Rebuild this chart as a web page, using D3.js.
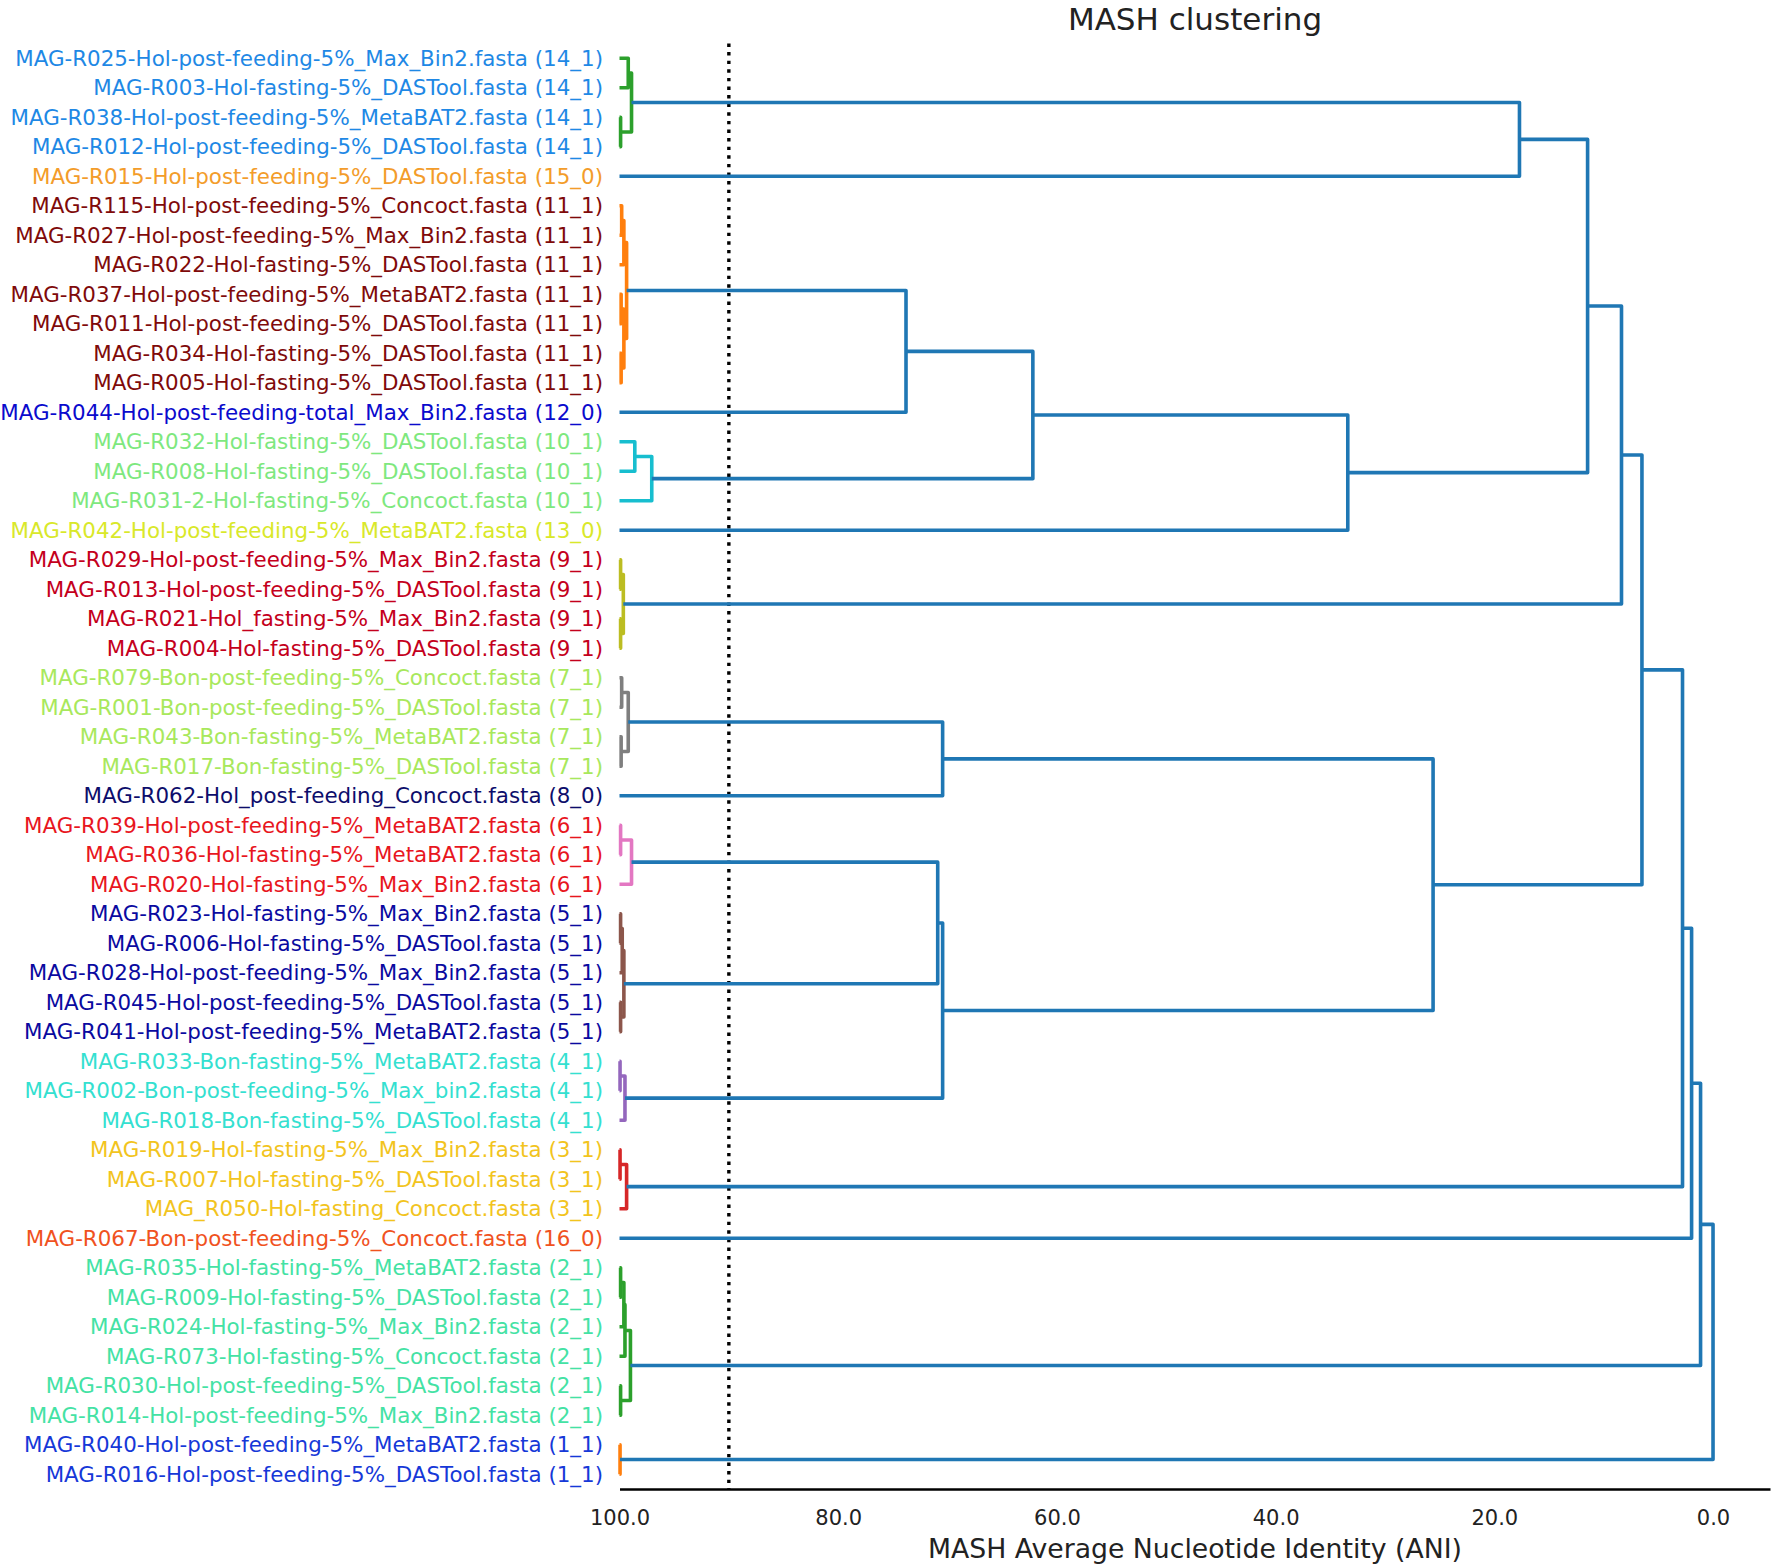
<!DOCTYPE html>
<html><head><meta charset="utf-8">
<script src="https://cdn.jsdelivr.net/npm/d3@7"></script>
<style>body{margin:0;background:#fff} text{font-family:"DejaVu Sans",sans-serif}</style>
</head><body><svg id="c" width="1772" height="1567"></svg>
<script>
// ---------------- data ----------------
const leafLabels = [
"MAG-R025-Hol-post-feeding-5%_Max_Bin2.fasta (14_1)",
"MAG-R003-Hol-fasting-5%_DASTool.fasta (14_1)",
"MAG-R038-Hol-post-feeding-5%_MetaBAT2.fasta (14_1)",
"MAG-R012-Hol-post-feeding-5%_DASTool.fasta (14_1)",
"MAG-R015-Hol-post-feeding-5%_DASTool.fasta (15_0)",
"MAG-R115-Hol-post-feeding-5%_Concoct.fasta (11_1)",
"MAG-R027-Hol-post-feeding-5%_Max_Bin2.fasta (11_1)",
"MAG-R022-Hol-fasting-5%_DASTool.fasta (11_1)",
"MAG-R037-Hol-post-feeding-5%_MetaBAT2.fasta (11_1)",
"MAG-R011-Hol-post-feeding-5%_DASTool.fasta (11_1)",
"MAG-R034-Hol-fasting-5%_DASTool.fasta (11_1)",
"MAG-R005-Hol-fasting-5%_DASTool.fasta (11_1)",
"MAG-R044-Hol-post-feeding-total_Max_Bin2.fasta (12_0)",
"MAG-R032-Hol-fasting-5%_DASTool.fasta (10_1)",
"MAG-R008-Hol-fasting-5%_DASTool.fasta (10_1)",
"MAG-R031-2-Hol-fasting-5%_Concoct.fasta (10_1)",
"MAG-R042-Hol-post-feeding-5%_MetaBAT2.fasta (13_0)",
"MAG-R029-Hol-post-feeding-5%_Max_Bin2.fasta (9_1)",
"MAG-R013-Hol-post-feeding-5%_DASTool.fasta (9_1)",
"MAG-R021-Hol_fasting-5%_Max_Bin2.fasta (9_1)",
"MAG-R004-Hol-fasting-5%_DASTool.fasta (9_1)",
"MAG-R079-Bon-post-feeding-5%_Concoct.fasta (7_1)",
"MAG-R001-Bon-post-feeding-5%_DASTool.fasta (7_1)",
"MAG-R043-Bon-fasting-5%_MetaBAT2.fasta (7_1)",
"MAG-R017-Bon-fasting-5%_DASTool.fasta (7_1)",
"MAG-R062-Hol_post-feeding_Concoct.fasta (8_0)",
"MAG-R039-Hol-post-feeding-5%_MetaBAT2.fasta (6_1)",
"MAG-R036-Hol-fasting-5%_MetaBAT2.fasta (6_1)",
"MAG-R020-Hol-fasting-5%_Max_Bin2.fasta (6_1)",
"MAG-R023-Hol-fasting-5%_Max_Bin2.fasta (5_1)",
"MAG-R006-Hol-fasting-5%_DASTool.fasta (5_1)",
"MAG-R028-Hol-post-feeding-5%_Max_Bin2.fasta (5_1)",
"MAG-R045-Hol-post-feeding-5%_DASTool.fasta (5_1)",
"MAG-R041-Hol-post-feeding-5%_MetaBAT2.fasta (5_1)",
"MAG-R033-Bon-fasting-5%_MetaBAT2.fasta (4_1)",
"MAG-R002-Bon-post-feeding-5%_Max_bin2.fasta (4_1)",
"MAG-R018-Bon-fasting-5%_DASTool.fasta (4_1)",
"MAG-R019-Hol-fasting-5%_Max_Bin2.fasta (3_1)",
"MAG-R007-Hol-fasting-5%_DASTool.fasta (3_1)",
"MAG_R050-Hol-fasting_Concoct.fasta (3_1)",
"MAG-R067-Bon-post-feeding-5%_Concoct.fasta (16_0)",
"MAG-R035-Hol-fasting-5%_MetaBAT2.fasta (2_1)",
"MAG-R009-Hol-fasting-5%_DASTool.fasta (2_1)",
"MAG-R024-Hol-fasting-5%_Max_Bin2.fasta (2_1)",
"MAG-R073-Hol-fasting-5%_Concoct.fasta (2_1)",
"MAG-R030-Hol-post-feeding-5%_DASTool.fasta (2_1)",
"MAG-R014-Hol-post-feeding-5%_Max_Bin2.fasta (2_1)",
"MAG-R040-Hol-post-feeding-5%_MetaBAT2.fasta (1_1)",
"MAG-R016-Hol-post-feeding-5%_DASTool.fasta (1_1)"
];
const leafClusters = ["14_1","14_1","14_1","14_1","15_0","11_1","11_1","11_1","11_1","11_1","11_1","11_1","12_0",
"10_1","10_1","10_1","13_0","9_1","9_1","9_1","9_1","7_1","7_1","7_1","7_1","8_0","6_1","6_1","6_1",
"5_1","5_1","5_1","5_1","5_1","4_1","4_1","4_1","3_1","3_1","3_1","16_0","2_1","2_1","2_1","2_1","2_1","2_1","1_1","1_1"];
const clusterNames  = ["14_1","15_0","11_1","12_0","10_1","13_0","9_1","7_1","8_0","6_1","5_1","4_1","3_1","16_0","2_1","1_1"];
const clusterLabelColors = ["#1e88e5","#f39c2a","#7f0a0a","#0a0acd","#7ee87e","#d9e82a","#c4001c","#a8e85c","#0d0d6b","#e8161e","#0a0aa0","#34e0d0","#f2c41e","#f0521e","#44e2a4","#1638d8"];
// linkage: [childA, childB, ANI at merge, link colour group]; leaves 0..48, merges numbered from 49
const merges = [
[0,1,99.2,"C2"],[2,3,99.9,"C2"],[49,50,98.9,"C2"],[51,4,17.7,"C0"],
[5,6,99.8,"C1"],[53,7,99.6,"C1"],[8,9,99.85,"C1"],[10,11,99.85,"C1"],[55,56,99.6,"C1"],[54,57,99.35,"C1"],[58,12,73.8,"C0"],
[13,14,98.6,"C9"],[60,15,97.05,"C9"],[59,61,62.2,"C0"],[62,16,33.4,"C0"],[52,63,11.47,"C0"],
[17,18,99.9,"C8"],[19,20,99.9,"C8"],[65,66,99.65,"C8"],[64,67,8.37,"C0"],
[21,22,99.8,"C7"],[23,24,99.85,"C7"],[69,70,99.2,"C7"],[71,25,70.45,"C0"],
[26,27,99.9,"C6"],[73,28,98.9,"C6"],
[29,30,99.9,"C5"],[75,31,99.75,"C5"],[32,33,99.9,"C5"],[76,77,99.6,"C5"],[74,78,70.9,"C0"],
[34,35,99.95,"C4"],[80,36,99.5,"C4"],[79,81,70.45,"C0"],[72,82,25.6,"C0"],[68,83,6.5,"C0"],
[37,38,99.95,"C3"],[85,39,99.35,"C3"],[84,86,2.79,"C0"],[87,40,1.96,"C0"],
[41,42,99.9,"C2"],[89,43,99.6,"C2"],[90,44,99.5,"C2"],[45,46,99.9,"C2"],[91,92,99.0,"C2"],[88,93,1.14,"C0"],
[47,48,99.95,"C1"],[94,95,0.0,"C0"]
];
const linkGroups = ["C0","C1","C2","C3","C4","C5","C6","C7","C8","C9"];
const linkColors = ["#1f77b4","#ff7f0e","#2ca02c","#d62728","#9467bd","#8c564b","#e377c2","#7f7f7f","#bcbd22","#17becf"];
const xTicks = [100, 80, 60, 40, 20, 0];
const threshold = 90;
const leafANI = 100;
const title = "MASH clustering";
const xLabel = "MASH Average Nucleotide Identity (ANI)";

// ---------------- drawing ----------------
const svg = d3.select("#c");
const nLeaves = leafLabels.length;
const x = d3.scaleLinear().domain([100, -5.21]).range([619.5, 1770]);
const y = d3.scaleLinear().domain([0, nLeaves * 10]).range([1489, 43.5]);
const labelColor = d3.scaleOrdinal().domain(clusterNames).range(clusterLabelColors);
const linkColor = d3.scaleOrdinal().domain(linkGroups).range(linkColors);

// node positions (scipy style: leaves at 5,15,...; merge at mean of children)
const nodes = leafLabels.map((l, i) => ({h: leafANI, pos: (nLeaves - i) * 10 - 5}));
merges.forEach(m => nodes.push({h: m[2], pos: (nodes[m[0]].pos + nodes[m[1]].pos) / 2}));

// threshold dotted line
svg.append("line")
  .attr("x1", x(threshold)).attr("x2", x(threshold))
  .attr("y1", y(nLeaves * 10)).attr("y2", y(0))
  .attr("stroke", "#000").attr("stroke-width", 3.4).attr("stroke-dasharray", "3.4,5.2");

// links
svg.append("g").selectAll("path").data(merges).join("path")
  .attr("d", m => {
    const a = nodes[m[0]], b = nodes[m[1]];
    return `M${x(a.h)},${y(a.pos)}H${x(m[2])}V${y(b.pos)}H${x(b.h)}`;
  })
  .attr("fill", "none")
  .attr("stroke", m => linkColor(m[3]))
  .attr("stroke-width", 3.6)
  .attr("stroke-linejoin", "round");

// leaf labels
svg.append("g").selectAll("text").data(leafLabels).join("text")
  .attr("x", 603)
  .attr("y", (d, i) => y(nodes[i].pos))
  .attr("dy", "0.36em")
  .attr("text-anchor", "end")
  .attr("font-size", 21.4)
  .attr("fill", (d, i) => labelColor(leafClusters[i]))
  .text(d => d);

// x axis
const axis = svg.append("g").attr("transform", `translate(0,${y(0)})`)
  .call(d3.axisBottom(x).tickValues(xTicks).tickFormat(d3.format(".1f")).tickSize(0).tickPadding(21));
axis.select(".domain").attr("stroke", "#000").attr("stroke-width", 2.6);
axis.selectAll("text").attr("font-size", 21).attr("fill", "#222").attr("font-family", "DejaVu Sans");

// titles
svg.append("text").attr("x", 1195).attr("y", 30).attr("text-anchor", "middle")
  .attr("font-size", 31).attr("fill", "#222").text(title);
svg.append("text").attr("x", 1195).attr("y", 1558).attr("text-anchor", "middle")
  .attr("font-size", 26.7).attr("fill", "#222").text(xLabel);
</script></body></html>
